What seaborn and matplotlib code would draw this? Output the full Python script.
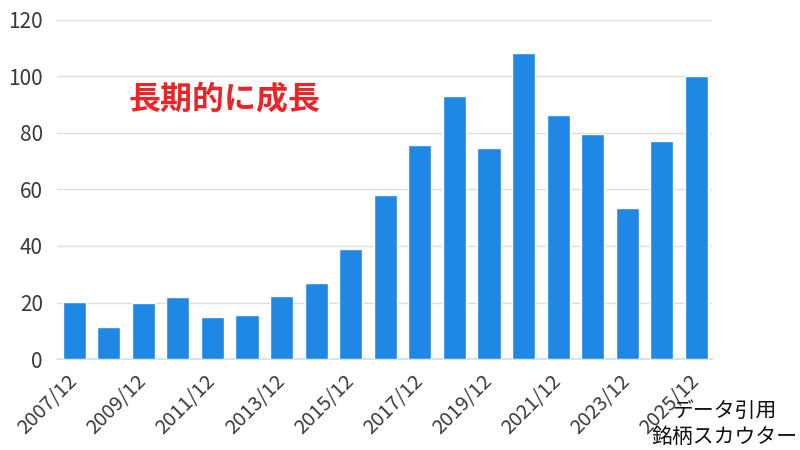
import matplotlib
matplotlib.use("Agg")
import matplotlib.pyplot as plt
import seaborn as sns
import pandas as pd

periods = [f"{y}/12" for y in range(2007, 2026)]
values = [20.2, 11.3, 20.0, 22.0, 15.0, 15.6, 22.3, 27.0, 39.0, 58.0,
          75.7, 93.0, 74.7, 108.3, 86.4, 79.6, 53.4, 77.0, 100.0]
tick_labels = [p if i % 2 == 0 else "" for i, p in enumerate(periods)]

df = pd.DataFrame({"period": periods, "value": values})

sns.set_theme(style="white")
plt.rcParams["font.family"] = ["Noto Sans CJK JP", "DejaVu Sans"]

fig = plt.figure(figsize=(8, 4.5), dpi=100)
ax = fig.add_axes([0.071, 0.202, 0.819, 0.754])

sns.barplot(data=df, x="period", y="value", color="#1f88e5", saturation=1,
            width=0.67, ax=ax, zorder=3)

ax.set_xlim(-0.5, 18.45)
ax.set_ylim(0, 120)
ax.set_yticks(range(0, 121, 20))
ax.yaxis.grid(True, color="#dddddd", linewidth=1, zorder=0)
ax.set_axisbelow(True)
for s in ["top", "right", "left"]:
    ax.spines[s].set_visible(False)
ax.spines["bottom"].set_color("#cfe0f0")
ax.set_xlabel("")
ax.set_ylabel("")
ax.set_xticks(range(len(periods)))
ax.set_xticklabels(tick_labels, rotation=45, ha="right", va="center",
                   rotation_mode="anchor")
ax.tick_params(axis="y", colors="#3a3a3a", labelsize=15, length=0, pad=10)
ax.tick_params(axis="x", colors="#3a3a3a", labelsize=14.5, length=0, pad=14)

ax.text(0.11, 0.765, "長期的に成長", transform=ax.transAxes, color="#e8262a",
        fontsize=23, fontweight="bold", va="center", ha="left")

fig.text(0.906, 0.058, "データ引用\n銘柄スカウター", color="#111111", fontsize=15,
         ha="center", va="center", multialignment="center", linespacing=1.2)

fig.savefig("out.png", dpi=100)
